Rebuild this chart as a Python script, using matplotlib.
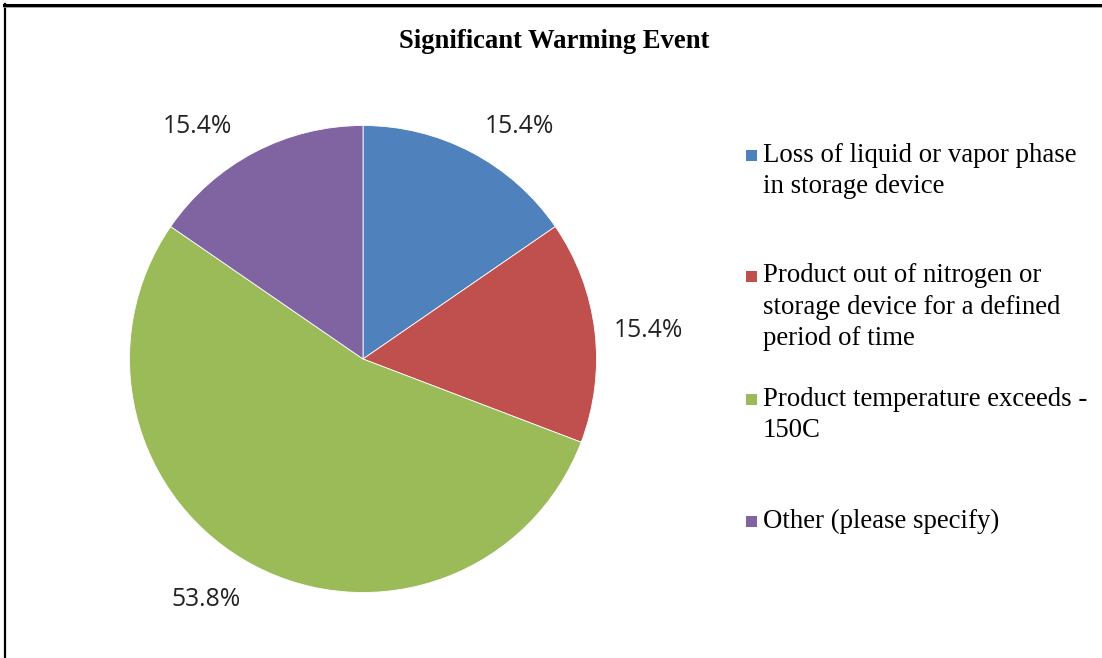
import matplotlib
matplotlib.use("Agg")
import matplotlib.pyplot as plt
from matplotlib.lines import Line2D
from matplotlib.patches import Rectangle

# Survey results: what counts as a significant warming event
title = "Significant Warming Event"
categories = [
    "Loss of liquid or vapor phase\nin storage device",
    "Product out of nitrogen or\nstorage device for a defined\nperiod of time",
    "Product temperature exceeds -\n150C",
    "Other (please specify)",
]
percent = [15.4, 15.4, 53.8, 15.4]
colors = ["#4F81BD", "#C0504D", "#9BBB59", "#8064A2"]

W, H = 1102, 658
fig = plt.figure(figsize=(W / 100, H / 100), dpi=100)
fig.patch.set_facecolor("white")

def fx(px):
    return px / W

def fy(py):
    return 1 - py / H

# Pie axes: centre (363, 359) px, radius 233.5 px
cx, cy, r = 363, 359, 233.5
ax = fig.add_axes([fx(cx - r), fy(cy + r), 2 * r / W, 2 * r / H])
wedges, _ = ax.pie(
    percent,
    colors=colors,
    startangle=90,
    counterclock=False,
    wedgeprops=dict(edgecolor="white", linewidth=0.6),
)
ax.set_xlim(-1, 1)
ax.set_ylim(-1, 1)
ax.set_aspect("equal")
ax.axis("off")

# Percentage labels outside each wedge (positions in radius units)
label_pos = [(0.668, 0.994), (1.221, 0.124), (-0.672, -1.032), (-0.709, 0.994)]
for val, (x, y) in zip(percent, label_pos):
    ax.text(x, y, f"{val:.1f}%", ha="center", va="center",
            fontsize=17.8, family="Open Sans", color="#222222", clip_on=False)

# Title
fig.text(fx(554), fy(41), title, ha="center", va="center",
         fontsize=19.2, fontweight="bold", family="Liberation Serif")

# Legend drawn as squares plus wrapped labels (first-line baselines in px)
legend_baseline = [162, 283, 406, 528]
line_gap = 31
for lab, col, yb in zip(categories, colors, legend_baseline):
    fig.patches.append(Rectangle((fx(746), fy(yb - 1)), 11 / W, 11 / H,
                                 transform=fig.transFigure, facecolor=col,
                                 edgecolor="none"))
    n_extra = lab.count("\n")
    # multi-line text aligns its last line on the baseline
    fig.text(fx(763), fy(yb + n_extra * line_gap), lab, ha="left",
             va="baseline", fontsize=19.3, family="Liberation Serif",
             linespacing=1.34)

# Frame: left and top edges with a faint shadow under the top
fig.add_artist(Line2D([fx(5), fx(5)], [fy(4), fy(H + 2)], color="black",
                      linewidth=1.6, transform=fig.transFigure))
fig.add_artist(Line2D([fx(4), fx(W + 2)], [fy(6.5), fy(6.5)], color="#9a9a9a",
                      linewidth=1.2, transform=fig.transFigure))
fig.add_artist(Line2D([fx(4), fx(W + 2)], [fy(4.5), fy(4.5)], color="black",
                      linewidth=2.2, transform=fig.transFigure))

fig.savefig("out.png", dpi=100, facecolor="white")
